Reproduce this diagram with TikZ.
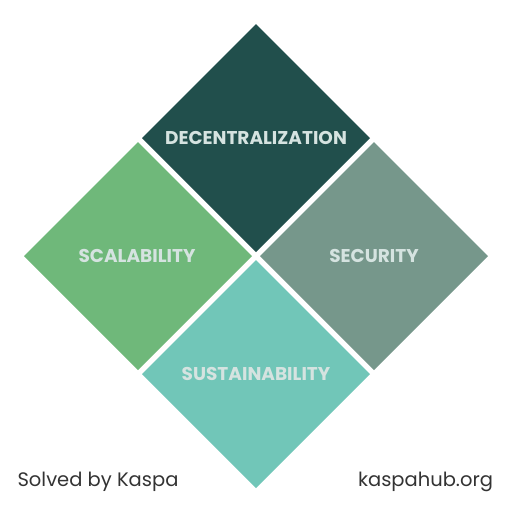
\documentclass[tikz,border=0pt]{standalone}
\usepackage{fontspec}
\setmainfont{Poppins}
\definecolor{cdec}{HTML}{214F4C}
\definecolor{csca}{HTML}{6FB87A}
\definecolor{csec}{HTML}{76978B}
\definecolor{csus}{HTML}{71C6B8}
\definecolor{clab}{HTML}{D5E3E0}
\definecolor{cfoot}{HTML}{333333}
\begin{document}
\begin{tikzpicture}[x=1pt,y=-1pt,
  lab/.style={text=clab,font=\fontsize{18.5}{22}\selectfont\bfseries,inner sep=0pt},
  foot/.style={text=cfoot,font=\fontsize{19.5}{22}\selectfont,inner sep=0pt,anchor=base}]
\useasboundingbox (0,0) rectangle (512,512);
\fill[cdec] (256,24) -- (370,138) -- (256,252) -- (142,138) -- cycle;
\fill[csca] (138,142) -- (252,256) -- (138,370) -- (24,256) -- cycle;
\fill[csec] (374,142) -- (488,256) -- (374,370) -- (260,256) -- cycle;
\fill[csus] (256,260) -- (370,374) -- (256,488) -- (142,374) -- cycle;
\node[lab] (dec) at (256,138) {DECENTRALIZATION};
\node[lab] (sca) at (137,256) {SCALABILITY};
\node[lab] (sec) at (374,256) {SECURITY};
\node[lab] (sus) at (256,374) {SUSTAINABILITY};
\node[foot] (solved) at (98,486) {Solved by Kaspa};
\node[foot] (hub) at (425.5,486) {kaspahub.org};
\end{tikzpicture}
\end{document}
